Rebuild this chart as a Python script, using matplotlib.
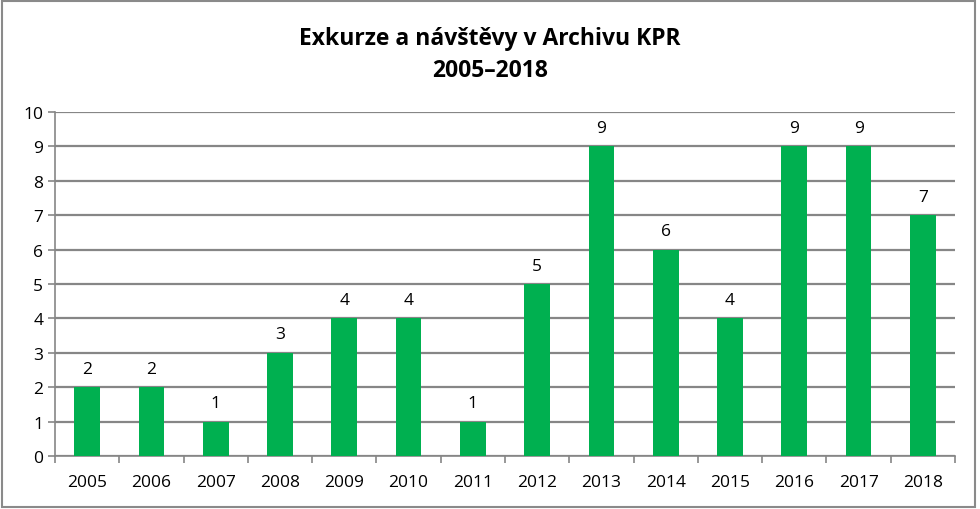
import matplotlib
matplotlib.use("Agg")
import matplotlib.pyplot as plt
from matplotlib.patches import Rectangle
from matplotlib.ticker import FixedLocator

years = ["2005", "2006", "2007", "2008", "2009", "2010", "2011", "2012",
         "2013", "2014", "2015", "2016", "2017", "2018"]
values = [2, 2, 1, 3, 4, 4, 1, 5, 9, 6, 4, 9, 9, 7]
title = "Exkurze a návštěvy v Archivu KPR\n2005–2018"

plt.rcParams['font.family'] = ['Open Sans', 'DejaVu Sans']

fig = plt.figure(figsize=(9.8, 5.1), dpi=100)
fig.patch.set_facecolor('white')
fig.add_artist(Rectangle((0.002, 0.004), 0.993, 0.992, transform=fig.transFigure,
                         fill=False, edgecolor='#8a8a8a', linewidth=1.5))

ax = fig.add_axes([55/980, 53/510, 900/980, 344/510])
x = list(range(len(years)))
bars = ax.bar(x, values, width=0.4, color='#00B050', zorder=3)
for xi, v in zip(x, values):
    ax.text(xi, v + 0.3, str(v), ha='center', va='bottom', fontsize=12.5, color='black')

ax.set_xlim(-0.5, len(years) - 0.5)
ax.set_ylim(0, 10)
ax.set_yticks(range(0, 11))
ax.set_xticks(x)
ax.set_xticklabels(years, fontsize=12.5)
ax.tick_params(axis='y', labelsize=12.5, length=5, color='#868686', width=1.2)
ax.tick_params(axis='x', which='major', length=0, pad=13)
ax.xaxis.set_minor_locator(FixedLocator([i - 0.5 for i in range(len(years) + 1)]))
ax.tick_params(axis='x', which='minor', length=5, color='#868686', width=1.2)
ax.grid(axis='y', color='#868686', linewidth=1.6, zorder=0)
for s in ['top', 'right']:
    ax.spines[s].set_visible(False)
for s in ['left', 'bottom']:
    ax.spines[s].set_color('#868686')
    ax.spines[s].set_linewidth(1.2)

fig.text(0.5, (510 - 55) / 510, title, ha='center', va='center', fontsize=16.5,
         fontweight='bold', linespacing=1.45)

fig.savefig("out.png", dpi=100)
